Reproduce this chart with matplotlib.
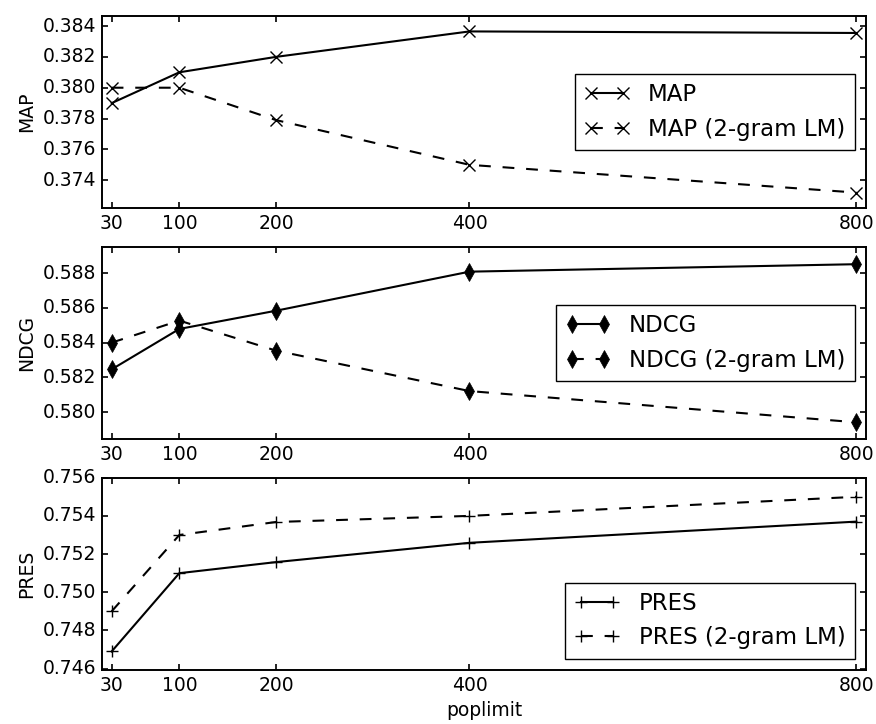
import matplotlib
matplotlib.use("Agg")
from matplotlib import pyplot as plt

plt.style.use("classic")
plt.rcParams["axes.linewidth"] = 1.4

poplimit = [30, 100, 200, 400, 800]

map_vals = [0.3790, 0.3810, 0.3820, 0.38365, 0.38355]
map_lm = [0.3800, 0.3800, 0.3779, 0.3750, 0.3732]

ndcg_vals = [0.58246, 0.58479, 0.58584, 0.58809, 0.58852]
ndcg_lm = [0.5840, 0.58527, 0.58354, 0.58121, 0.57941]

pres_vals = [0.7469, 0.7510, 0.75158, 0.75259, 0.7537]
pres_lm = [0.7490, 0.7530, 0.75368, 0.7540, 0.7550]

fig = plt.figure(figsize=(8.76, 7.24), dpi=100, facecolor="white")

left, width = 0.1164, 0.8722
ax1 = fig.add_axes([left, 0.7127, width, 0.2652])
ax2 = fig.add_axes([left, 0.3932, width, 0.2661])
ax3 = fig.add_axes([left, 0.0746, width, 0.2656])

lw = 1.5
dash = (8.5, 8.5)

# MAP
ax1.plot(poplimit, map_vals, "k-", lw=lw, marker="x", markersize=9, mew=1, label="MAP")
ax1.plot(poplimit, map_lm, "k--", lw=lw, dashes=dash, marker="x", markersize=9, mew=1,
         label="MAP (2-gram LM)")
ax1.set_ylim(0.37220, 0.38465)
ax1.set_yticks([0.374, 0.376, 0.378, 0.380, 0.382, 0.384])
ax1.set_ylabel("MAP", fontsize=13.5)
ax1.legend(loc="center right", fontsize=16.5, numpoints=2)

# NDCG
ax2.plot(poplimit, ndcg_vals, "k-", lw=lw, marker="d", markersize=9, label="NDCG")
ax2.plot(poplimit, ndcg_lm, "k--", lw=lw, dashes=dash, marker="d", markersize=9,
         label="NDCG (2-gram LM)")
ax2.set_ylim(0.57843, 0.58953)
ax2.set_yticks([0.580, 0.582, 0.584, 0.586, 0.588])
ax2.set_ylabel("NDCG", fontsize=13.5)
ax2.legend(loc="center right", fontsize=16.5, numpoints=2)

# PRES
ax3.plot(poplimit, pres_vals, "k-", lw=lw, marker="+", markersize=9, mew=1, label="PRES")
ax3.plot(poplimit, pres_lm, "k--", lw=lw, dashes=dash, marker="+", markersize=9, mew=1,
         label="PRES (2-gram LM)")
ax3.set_ylim(0.74593, 0.7560)
ax3.set_yticks([0.746, 0.748, 0.750, 0.752, 0.754, 0.756])
ax3.set_ylabel("PRES", fontsize=13.5)
ax3.set_xlabel("poplimit", fontsize=13.5)
ax3.legend(loc="lower right", fontsize=16.5, numpoints=2)

for ax in (ax1, ax2, ax3):
    ax.set_xlim(20, 810)
    ax.set_xticks(poplimit)
    ax.tick_params(labelsize=13.5, width=1.2)
    ax.yaxis.set_major_formatter(matplotlib.ticker.FormatStrFormatter("%.3f"))

fig.savefig("out.png", dpi=100, facecolor="white")
